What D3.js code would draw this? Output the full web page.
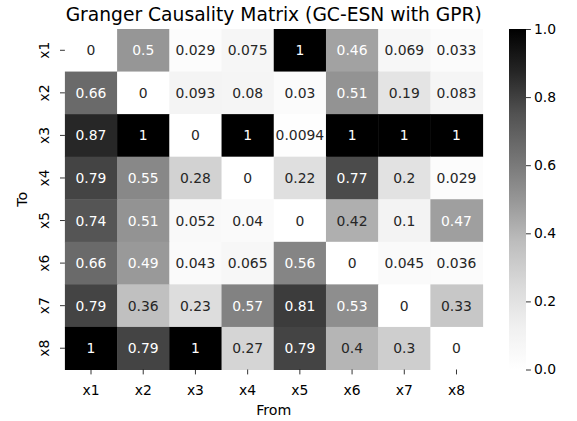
<!DOCTYPE html>
<html><head><meta charset="utf-8">
<script src="https://cdn.jsdelivr.net/npm/d3@7"></script>
<style>body{margin:0;background:#fff}svg{display:block;font-family:"DejaVu Sans",sans-serif}</style>
</head><body><svg id="c" width="577" height="421"></svg>
<script>
const title = "Granger Causality Matrix (GC-ESN with GPR)";
const fromLabels = ["x1","x2","x3","x4","x5","x6","x7","x8"];
const toLabels = ["x1","x2","x3","x4","x5","x6","x7","x8"];
const row_x1 = [0, 0.5, 0.029, 0.075, 1, 0.46, 0.069, 0.033];
const row_x2 = [0.66, 0, 0.093, 0.08, 0.03, 0.51, 0.19, 0.083];
const row_x3 = [0.87, 1, 0, 1, 0.0094, 1, 1, 1];
const row_x4 = [0.79, 0.55, 0.28, 0, 0.22, 0.77, 0.2, 0.029];
const row_x5 = [0.74, 0.51, 0.052, 0.04, 0, 0.42, 0.1, 0.47];
const row_x6 = [0.66, 0.49, 0.043, 0.065, 0.56, 0, 0.045, 0.036];
const row_x7 = [0.79, 0.36, 0.23, 0.57, 0.81, 0.53, 0, 0.33];
const row_x8 = [1, 0.79, 1, 0.27, 0.79, 0.4, 0.3, 0];
const colorbarTicks = [0, 0.2, 0.4, 0.6, 0.8, 1.0];
const greysStops = ["#ffffff","#f0f0f0","#d9d9d9","#bdbdbd","#969696","#737373","#525252","#252525","#000000"];

const rows = [row_x1,row_x2,row_x3,row_x4,row_x5,row_x6,row_x7,row_x8];
const cells = [];
rows.forEach((r,i)=>r.forEach((v,j)=>cells.push({to:toLabels[i], from:fromLabels[j], v})));

const svg = d3.select("#c");
const L = 64.9, R = 482.6, T = 29, B = 369.5;
const x = d3.scaleBand().domain(fromLabels).range([L,R]);
const y = d3.scaleBand().domain(toLabels).range([T,B]);
const color = d3.scaleLinear().domain(greysStops.map((_,i)=>i/(greysStops.length-1))).range(greysStops).clamp(true);

function lum(c){
  const o = d3.rgb(c);
  const f = v=>{v/=255; return v<=0.03928? v/12.92 : Math.pow((v+0.055)/1.055,2.4);};
  return 0.2126*f(o.r)+0.7152*f(o.g)+0.0722*f(o.b);
}
const fmt = d3.format(".2~g");

svg.append("g").selectAll("rect").data(cells).join("rect")
  .attr("x",d=>x(d.from)).attr("y",d=>y(d.to))
  .attr("width",x.bandwidth()+0.5).attr("height",y.bandwidth()+0.5)
  .attr("fill",d=>color(d.v));

svg.append("g").selectAll("text").data(cells).join("text")
  .attr("x",d=>x(d.from)+x.bandwidth()/2).attr("y",d=>y(d.to)+y.bandwidth()/2)
  .attr("text-anchor","middle").attr("dy","0.36em")
  .attr("font-size",13.9)
  .attr("fill",d=>lum(color(d.v))>0.408?"#262626":"#ffffff")
  .text(d=>fmt(d.v));

// x axis
const xa = svg.append("g").attr("transform",`translate(0,${B})`)
  .call(d3.axisBottom(x).tickSize(4.9).tickPadding(10.7));
xa.select(".domain").remove();
xa.selectAll("text").attr("font-size",13.9).attr("fill","#000").attr("font-family","DejaVu Sans");
xa.selectAll("line").attr("stroke","#000").attr("stroke-width",0.8);

// y axis
const ya = svg.append("g").attr("transform",`translate(${L},0)`)
  .call(d3.axisLeft(y).tickSize(4.9).tickPadding(4));
ya.select(".domain").remove();
ya.selectAll("line").attr("stroke","#000").attr("stroke-width",0.8);
ya.selectAll("text").attr("font-size",13.9).attr("fill","#000").attr("font-family","DejaVu Sans")
  .attr("text-anchor","middle").attr("dy",null)
  .attr("transform",d=>`translate(${-20.6},${y(d)+y.bandwidth()/2}) rotate(-90)`)
  .attr("x",0).attr("y",5);
ya.selectAll(".tick").attr("transform",null);
ya.selectAll(".tick line").attr("transform",d=>`translate(0,${y(d)+y.bandwidth()/2})`);

// axis labels
svg.append("text").attr("x",(L+R)/2).attr("y",415).attr("text-anchor","middle")
  .attr("font-size",14.2).text("From");
svg.append("text").attr("transform",`translate(27,${(T+B)/2}) rotate(-90)`).attr("text-anchor","middle")
  .attr("font-size",14.2).text("To");
svg.append("text").attr("x",(L+R)/2).attr("y",20.5).attr("text-anchor","middle")
  .attr("font-size",18.7).text(title);

// colorbar
const cbX = 509, cbW = 17;
const cy = d3.scaleLinear().domain([0,1]).range([B,T]);
const defs = svg.append("defs");
const grad = defs.append("linearGradient").attr("id","cbg").attr("x1",0).attr("y1",1).attr("x2",0).attr("y2",0);
greysStops.forEach((c,i)=>grad.append("stop").attr("offset",i/(greysStops.length-1)).attr("stop-color",c));
svg.append("rect").attr("x",cbX).attr("y",T).attr("width",cbW).attr("height",B-T).attr("fill","url(#cbg)");
const ca = svg.append("g").attr("transform",`translate(${cbX+cbW},0)`)
  .call(d3.axisRight(cy).tickValues(colorbarTicks).tickFormat(d3.format(".1f")).tickSize(4.9).tickPadding(3));
ca.select(".domain").remove();
ca.selectAll("line").attr("stroke","#000").attr("stroke-width",0.8);
ca.selectAll("text").attr("font-size",13.9).attr("fill","#000").attr("font-family","DejaVu Sans");
</script></body></html>
